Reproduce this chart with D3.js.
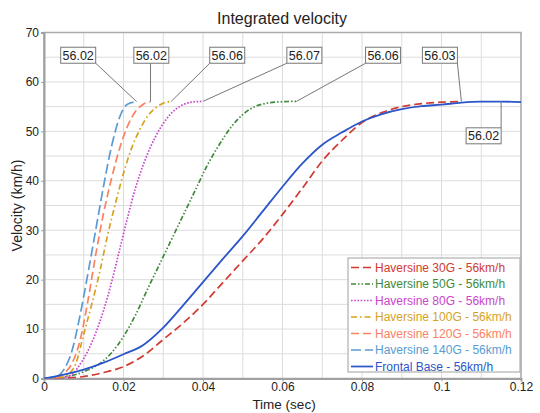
<!DOCTYPE html>
<html>
<head>
<meta charset="utf-8">
<script src="https://cdn.jsdelivr.net/npm/d3@7"></script>
<style>
  body { margin: 0; background: #fff; }
  svg { display: block; font-family: "Liberation Sans", Arial, sans-serif; }
</style>
</head>
<body>
<div id="chart"></div>
<script>
// ---- data ----
const seriesNames = [
  "Haversine 30G - 56km/h",
  "Haversine 50G - 56km/h",
  "Haversine 80G - 56km/h",
  "Haversine 100G - 56km/h",
  "Haversine 120G - 56km/h",
  "Haversine 140G - 56km/h",
  "Frontal Base - 56km/h"
];

const hav30 = [[0,0],[0.005,0.1],[0.010,0.4],[0.015,1.2],[0.020,2.4],[0.025,4.6],[0.030,7.9],[0.035,11.2],
  [0.040,15],[0.045,19.4],[0.050,23.8],[0.055,28.2],[0.060,33.2],[0.065,38.5],[0.070,44],[0.075,48.2],
  [0.080,51.8],[0.085,53.8],[0.090,55],[0.095,55.6],[0.100,55.9],[0.105,56.03]];
const hav50 = [[0,0],[0.004,0.2],[0.008,0.8],[0.011,1.7],[0.014,3],[0.017,5.2],[0.020,8.5],[0.023,12.8],
  [0.026,18],[0.029,23],[0.032,28],[0.035,33],[0.038,38],[0.041,43],[0.044,47.2],[0.047,50.8],[0.050,53.4],
  [0.053,55],[0.056,55.7],[0.060,56],[0.0635,56.06]];
const hav80 = [[0,0],[0.004,0.1],[0.007,0.8],[0.009,2.8],[0.011,5.5],[0.013,9.2],[0.015,13.8],[0.017,19.5],
  [0.019,26],[0.021,32.5],[0.023,38.5],[0.025,43.3],[0.027,47.2],[0.029,50.3],[0.031,52.7],[0.033,54.4],
  [0.035,55.4],[0.037,55.9],[0.040,56.07]];
const hav100 = [[0,0],[0.004,0.2],[0.006,0.8],[0.008,3],[0.010,9],[0.012,15],[0.014,21.5],[0.016,29],
  [0.018,35.5],[0.020,41.5],[0.022,46.5],[0.024,50.2],[0.026,53],[0.028,54.7],[0.030,55.7],[0.032,56.06]];
const hav120 = [[0,0],[0.003,0.2],[0.005,1],[0.007,3],[0.009,7.5],[0.011,15.5],[0.013,25],[0.015,33.5],
  [0.017,40.5],[0.019,46.5],[0.021,51],[0.023,54],[0.025,55.5],[0.0268,56.02]];
const hav140 = [[0,0],[0.003,0.3],[0.005,1.8],[0.007,5.5],[0.009,12.5],[0.011,21],[0.013,30],[0.015,39],
  [0.017,47],[0.019,52.8],[0.021,55.5],[0.0233,56.02]];
const frontal = [[0,0],[0.005,0.8],[0.010,1.8],[0.015,3.2],[0.020,4.9],[0.025,6.8],[0.030,10.3],[0.035,14.8],
  [0.040,19.5],[0.045,24.2],[0.050,28.8],[0.055,33.8],[0.060,38.8],[0.065,43.5],[0.070,47.3],[0.075,49.8],
  [0.080,52],[0.085,53.5],[0.090,54.5],[0.095,55.1],[0.100,55.4],[0.105,55.8],[0.110,56.0],[0.115,56.02],
  [0.120,55.9]];

const seriesData = [hav30, hav50, hav80, hav100, hav120, hav140, frontal];
const xTicks = [0, 0.02, 0.04, 0.06, 0.08, 0.1, 0.12];
const yTicks = [0, 10, 20, 30, 40, 50, 60, 70];

// ---- styles / layout ----
const colors = ["#d13a32", "#3f8a3a", "#cc44cc", "#d6a21e", "#fa8262", "#5a9bd2", "#2b55c8"];
const dashes = ["8,4", "5,2,1.5,2,1.5,2", "1.6,1.6", "6,3,1.6,3", "8,4", "10,4", null];
// label box centres, in data units, one per series
const labelBox = [[0.0996, 65.4], [0.0853, 65.4], [0.0655, 65.4], [0.0461, 65.4], [0.027, 65.4], [0.0086, 65.4], [0.1106, 49.1]];

const width = 540, height = 413;
const margin = { left: 44, right: 19, top: 32.5, bottom: 34.5 };

const x = d3.scaleLinear().domain([0, 0.12]).range([margin.left, width - margin.right]);
const y = d3.scaleLinear().domain([0, 70]).range([height - margin.bottom, margin.top]);

const svg = d3.select("#chart").append("svg")
  .attr("width", width)
  .attr("height", height);

svg.append("defs").append("clipPath").attr("id", "plot")
  .append("rect")
  .attr("x", x(0)).attr("y", y(70))
  .attr("width", x(0.12) - x(0)).attr("height", y(0) - y(70));

// grid
const grid = svg.append("g").attr("stroke", "#dcdcdc").attr("stroke-width", 1);
grid.selectAll("line.v").data(d3.range(0, 0.1201, 0.01)).join("line")
  .attr("x1", d => x(d)).attr("x2", d => x(d))
  .attr("y1", y(0)).attr("y2", y(70));
grid.selectAll("line.h").data(d3.range(0, 70.1, 5)).join("line")
  .attr("x1", x(0)).attr("x2", x(0.12))
  .attr("y1", d => y(d)).attr("y2", d => y(d));

// frame
svg.append("rect")
  .attr("x", x(0)).attr("y", y(70))
  .attr("width", x(0.12) - x(0)).attr("height", y(0) - y(70))
  .attr("fill", "none").attr("stroke", "#ababab").attr("stroke-width", 1.5);

// axes
const xAxis = svg.append("g")
  .attr("transform", `translate(0,${y(0)})`)
  .call(d3.axisBottom(x).tickValues(xTicks).tickSize(3).tickPadding(1)
    .tickFormat(d => String(+d.toFixed(2))));
const yAxis = svg.append("g")
  .attr("transform", `translate(${x(0)},0)`)
  .call(d3.axisLeft(y).tickValues(yTicks).tickSize(3).tickPadding(2));
[xAxis, yAxis].forEach(a => {
  a.select(".domain").attr("stroke", "#a0a0a0").attr("stroke-width", 2);
  a.selectAll(".tick line").attr("stroke", "#a0a0a0");
  a.selectAll(".tick text").attr("fill", "#222").style("font-size", "12px")
    .style("font-family", "'Liberation Sans', Arial, sans-serif");
});

// lines
const line = d3.line().x(d => x(d[0])).y(d => y(d[1])).curve(d3.curveMonotoneX);
const lines = svg.append("g").attr("clip-path", "url(#plot)").attr("fill", "none");
seriesData.forEach((data, i) => {
  lines.append("path")
    .datum(data)
    .attr("d", line)
    .attr("stroke", colors[i])
    .attr("stroke-width", i === 6 ? 1.8 : 1.7)
    .attr("stroke-dasharray", dashes[i]);
});

// value callouts at each series maximum
const callouts = svg.append("g").style("font-size", "12.5px");
seriesData.forEach((data, i) => {
  const peak = data.reduce((a, b) => (b[1] > a[1] ? b : a));
  const cx = x(labelBox[i][0]), cy = y(labelBox[i][1]);
  const w = 35, h = 16;
  const px = x(peak[0]), py = y(peak[1]);
  const ax = Math.max(cx - w / 2, Math.min(cx + w / 2, px));
  const ay = py > cy ? cy + h / 2 : cy - h / 2;
  callouts.append("line")
    .attr("x1", ax).attr("y1", ay).attr("x2", px).attr("y2", py)
    .attr("stroke", "#777").attr("stroke-width", 1);
  callouts.append("rect")
    .attr("x", cx - w / 2).attr("y", cy - h / 2).attr("width", w).attr("height", h)
    .attr("fill", "#fff").attr("stroke", "#777").attr("stroke-width", 1);
  callouts.append("text")
    .attr("x", cx).attr("y", cy + 4.5)
    .attr("text-anchor", "middle").attr("fill", "#222")
    .text(peak[1].toFixed(2));
});

// legend
const legend = svg.append("g").attr("transform", "translate(348,258)");
legend.append("rect")
  .attr("width", 172).attr("height", 114)
  .attr("fill", "#fff").attr("stroke", "#b0b0b0").attr("stroke-width", 1.2);
seriesNames.forEach((name, i) => {
  const ly = 9.5 + i * 16.5;
  legend.append("line")
    .attr("x1", 3).attr("x2", 25).attr("y1", ly).attr("y2", ly)
    .attr("stroke", colors[i]).attr("stroke-width", 1.7)
    .attr("stroke-dasharray", dashes[i] ? dashes[i] : null);
  legend.append("text")
    .attr("x", 27).attr("y", ly + 4.3)
    .attr("fill", colors[i]).style("font-size", "12px")
    .text(name);
});

// titles
svg.append("text")
  .attr("x", 282).attr("y", 24)
  .attr("text-anchor", "middle").attr("fill", "#222").style("font-size", "16px")
  .text("Integrated velocity");
svg.append("text")
  .attr("x", 284).attr("y", 409)
  .attr("text-anchor", "middle").attr("fill", "#222").style("font-size", "13.5px")
  .text("Time (sec)");
svg.append("text")
  .attr("transform", `translate(22,${(y(0) + y(70)) / 2}) rotate(-90)`)
  .attr("text-anchor", "middle").attr("fill", "#222").style("font-size", "14px")
  .text("Velocity (km/h)");
</script>
</body>
</html>
